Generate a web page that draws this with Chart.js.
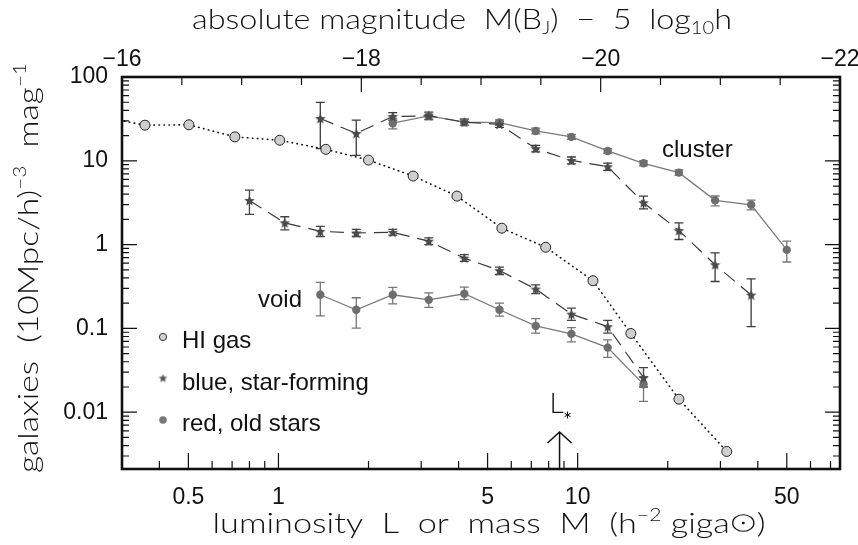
<!DOCTYPE html>
<html>
<head>
<meta charset="utf-8">
<script src="https://cdn.jsdelivr.net/npm/chart.js@4/dist/chart.umd.min.js"></script>
<style>
  body { margin: 0; background: #fff; }
  canvas { display: block; }
</style>
</head>
<body>
<canvas id="grafica" width="858" height="545"></canvas>
<script>
// gas HI (circulos grises, linea punteada)
const lumHI = [0.253, 0.358, 0.502, 0.715, 1.01, 1.44, 2.0, 2.82, 3.95, 5.58, 7.82, 11.25, 15.06, 21.8, 31.5];
const densHI = [34, 26.6, 26.9, 19.3, 17.6, 13.7, 10.2, 6.58, 3.79, 1.57, 0.93, 0.371, 0.087, 0.0143, 0.0034];

// vacio, galaxias azules
const lumVacioAzul = [0.80, 1.05, 1.38, 1.82, 2.41, 3.18, 4.18, 5.48, 7.24, 9.53, 12.6, 16.6];
const vacioAzul = [3.37, 1.82, 1.44, 1.38, 1.40, 1.10, 0.69, 0.49, 0.295, 0.148, 0.105, 0.0258];
const vacioAzulMin = [2.29, 1.50, 1.25, 1.25, 1.30, 1.00, 0.63, 0.44, 0.26, 0.125, 0.088, 0.020];
const vacioAzulMax = [4.47, 2.15, 1.65, 1.52, 1.52, 1.20, 0.76, 0.54, 0.33, 0.175, 0.125, 0.034];

// vacio, galaxias rojas
const lumVacioRojo = [1.38, 1.82, 2.41, 3.18, 4.18, 5.48, 7.24, 9.53, 12.6, 16.6];
const vacioRojo = [0.252, 0.167, 0.252, 0.219, 0.259, 0.167, 0.107, 0.086, 0.059, 0.0215];
const vacioRojoMin = [0.141, 0.101, 0.196, 0.178, 0.22, 0.14, 0.088, 0.069, 0.045, 0.0135];
const vacioRojoMax = [0.354, 0.232, 0.308, 0.265, 0.31, 0.20, 0.131, 0.102, 0.073, 0.0265];

// cumulo, galaxias azules
const lumCumuloAzul = [1.38, 1.82, 2.41, 3.18, 4.18, 5.48, 7.24, 9.53, 12.6, 16.6, 21.8, 28.8, 38.0];
const cumuloAzul = [32.0, 21.2, 33.8, 34.4, 28.9, 27.2, 14.0, 10.1, 8.5, 3.16, 1.47, 0.575, 0.25];
const cumuloAzulMin = [14.0, 11.6, 30.5, 31.0, 26.5, 25.0, 12.8, 9.2, 7.7, 2.67, 1.15, 0.363, 0.105];
const cumuloAzulMax = [49.8, 30.6, 37.5, 38.0, 31.5, 29.5, 15.3, 11.1, 9.4, 3.79, 1.82, 0.796, 0.39];

// cumulo, galaxias rojas
const lumCumuloRojo = [2.41, 3.18, 4.18, 5.48, 7.24, 9.53, 12.6, 16.6, 21.8, 28.8, 38.0, 50.0];
const cumuloRojo = [28.1, 34.4, 28.9, 28.6, 22.7, 19.3, 13.1, 9.33, 7.22, 3.37, 2.99, 0.865];
const cumuloRojoMin = [24.0, 31.5, 26.5, 26.5, 21.0, 18.0, 12.3, 8.7, 6.7, 2.9, 2.6, 0.62];
const cumuloRojoMax = [32.0, 37.5, 31.5, 30.8, 24.5, 20.7, 14.0, 10.0, 7.8, 3.8, 3.4, 1.10];

const marcasX = [0.5, 1, 5, 10, 50];
const marcasY = [0.01, 0.1, 1, 10, 100];
const marcasMag = [-22, -20, -18, -16];
const LESTRELLA = 8.7;

const fuenteTitulo = '"Lato", "DejaVu Sans"';
const fuenteTexto = '"Liberation Sans", Arial, sans-serif';

const crearEstrella = (radio, color) => {
    const c = document.createElement('canvas');
    const t = Math.ceil(radio * 2) + 2;
    c.width = t; c.height = t;
    const g = c.getContext('2d');
    g.translate(t / 2, t / 2 + 0.5);
    g.beginPath();
    for (let i = 0; i < 10; i++) {
        const r = i % 2 === 0 ? radio : radio * 0.45;
        const a = -Math.PI / 2 + i * Math.PI / 5;
        g.lineTo(r * Math.cos(a), r * Math.sin(a));
    }
    g.closePath();
    g.fillStyle = color;
    g.fill();
    return c;
};

const estrella = crearEstrella(5.5, '#4a4a4a');
const puntos = (xs, ys) => xs.map((x, i) => ({ x: x, y: ys[i] }));

// texto con super/subindices, ajustado a un ancho dado
// tipo: 0 normal, 1 superindice, -1 subindice, 2 simbolo solar
const textoRico = (ctx, partes, cx, cy, tam, ancho, girar) => {
    ctx.save();
    ctx.translate(cx, cy);
    if (girar) ctx.rotate(-Math.PI / 2);
    let total = 0;
    const medidas = partes.map(([t, tipo]) => {
        const s = (tipo === 1 || tipo === -1) ? tam * 0.62 : tam;
        ctx.font = `300 ${s}px ${fuenteTitulo}`;
        const w = tipo === 2 ? tam * 0.78 : ctx.measureText(t).width;
        total += w;
        return { t, tipo, s, w };
    });
    const sx = ancho ? ancho / total : 1;
    ctx.scale(sx, 1);
    ctx.fillStyle = '#111';
    ctx.strokeStyle = '#111';
    ctx.textBaseline = 'alphabetic';
    let x = -total / 2;
    const base = tam * 0.36;
    medidas.forEach(m => {
        if (m.tipo === 2) {
            const r = tam * 0.31;
            const cxs = x + m.w / 2, cys = base - tam * 0.36;
            ctx.lineWidth = 1;
            ctx.beginPath(); ctx.arc(cxs, cys, r, 0, Math.PI * 2); ctx.stroke();
            ctx.beginPath(); ctx.arc(cxs, cys, 1.2, 0, Math.PI * 2); ctx.fill();
        } else {
            ctx.font = `300 ${m.s}px ${fuenteTitulo}`;
            const dy = m.tipo === 1 ? -tam * 0.42 : (m.tipo === -1 ? tam * 0.2 : 0);
            ctx.fillText(m.t, x, base + dy);
        }
        x += m.w;
    });
    ctx.restore();
};

const barrasError = {
    id: 'barrasError',
    beforeDatasetsDraw(chart) {
        const { ctx, chartArea: a, scales } = chart;
        ctx.save();
        ctx.beginPath();
        ctx.rect(a.left, a.top, a.width, a.height);
        ctx.clip();
        chart.data.datasets.forEach(ds => {
            if (!ds.errMin) return;
            ctx.strokeStyle = ds.colorError;
            ctx.lineWidth = 1.3;
            ds.data.forEach((p, i) => {
                const px = scales.x.getPixelForValue(p.x);
                const y1 = scales.y.getPixelForValue(ds.errMin[i]);
                const y2 = scales.y.getPixelForValue(ds.errMax[i]);
                ctx.beginPath();
                ctx.moveTo(px, y1); ctx.lineTo(px, y2);
                ctx.moveTo(px - 4.5, y1); ctx.lineTo(px + 4.5, y1);
                ctx.moveTo(px - 4.5, y2); ctx.lineTo(px + 4.5, y2);
                ctx.stroke();
            });
        });
        ctx.restore();
    }
};

const marcoYTextos = {
    id: 'marcoYTextos',
    afterDraw(chart) {
        const { ctx, chartArea: a, scales } = chart;
        ctx.save();
        ctx.strokeStyle = '#111';
        ctx.lineWidth = 1.2;
        ctx.beginPath();
        // marcas inferiores (log)
        for (let d = -1; d <= 1; d++) {
            for (let m = 1; m <= 9; m++) {
                const v = m * Math.pow(10, d);
                if (v <= scales.x.min || v >= scales.x.max) continue;
                const px = scales.x.getPixelForValue(v);
                const largo = (m === 1 || m === 5) ? 16 : 8;
                ctx.moveTo(px, a.bottom); ctx.lineTo(px, a.bottom - largo);
            }
        }
        // marcas superiores (magnitud)
        for (let M = -16.5; M > -22; M -= 0.5) {
            const px = scales.xTop.getPixelForValue(M);
            const largo = (M % 2 === 0) ? 15 : 8;
            ctx.moveTo(px, a.top); ctx.lineTo(px, a.top + largo);
        }
        // marcas verticales a ambos lados
        for (let d = -3; d <= 1; d++) {
            for (let m = 1; m <= 9; m++) {
                const v = m * Math.pow(10, d);
                if (v <= scales.y.min || v >= scales.y.max) continue;
                const py = scales.y.getPixelForValue(v);
                const largo = m === 1 ? 15 : 7;
                ctx.moveTo(a.left, py); ctx.lineTo(a.left + largo, py);
                ctx.moveTo(a.right, py); ctx.lineTo(a.right - largo, py);
            }
        }
        ctx.stroke();

        ctx.lineWidth = 2.6;
        ctx.strokeRect(a.left, a.top, a.width, a.height);

        // titulos de ejes
        textoRico(ctx, [['absolute magnitude  M(B', 0], ['J', -1], [')  \u2212  5  log', 0], ['10', -1], ['h', 0]], 462, 19, 27, 540, false);
        textoRico(ctx, [['luminosity  L  or  mass  M  (h', 0], ['\u22122', 1], [' giga', 0], ['\u2299', 2], [')', 0]], 489, 523, 27, 553, false);
        textoRico(ctx, [['galaxies  (10Mpc/h)', 0], ['\u22123', 1], ['  mag', 0], ['\u22121', 1]], 28, 268, 27, 410, true);

        // etiquetas
        ctx.fillStyle = '#111';
        ctx.font = `24px ${fuenteTexto}`;
        ctx.textBaseline = 'middle';
        ctx.textAlign = 'left';
        ctx.fillText('cluster', 662, 150);
        ctx.fillText('void', 258, 300);
        ctx.fillText('HI gas', 182, 341);
        ctx.fillText('blue, star-forming', 182, 383);
        ctx.fillText('red, old stars', 182, 424);

        // simbolos de la leyenda
        ctx.lineWidth = 1;
        ctx.fillStyle = '#d2d2d2';
        ctx.strokeStyle = '#333';
        ctx.beginPath(); ctx.arc(163, 337, 3.6, 0, Math.PI * 2); ctx.fill(); ctx.stroke();
        ctx.drawImage(crearEstrella(4.5, '#555'), 163 - 5.5, 378 - 5.5);
        ctx.fillStyle = '#777';
        ctx.beginPath(); ctx.arc(163, 420, 3.8, 0, Math.PI * 2); ctx.fill();

        // L* con flecha
        const px = scales.x.getPixelForValue(LESTRELLA);
        ctx.strokeStyle = '#111';
        ctx.lineWidth = 1.5;
        ctx.beginPath();
        ctx.moveTo(px, a.bottom); ctx.lineTo(px, 432);
        ctx.moveTo(px - 12, 443); ctx.lineTo(px, 432); ctx.lineTo(px + 12, 443);
        ctx.stroke();
        ctx.fillStyle = '#111';
        ctx.font = `300 28px ${fuenteTitulo}`;
        ctx.textBaseline = 'alphabetic';
        ctx.fillText('L', px - 10, 413);
        ctx.lineWidth = 1;
        ctx.beginPath();
        for (let k = 0; k < 3; k++) {
            const ang = Math.PI / 2 + k * Math.PI / 3;
            ctx.moveTo(px + 8 + 3.5 * Math.cos(ang), 415 + 3.5 * Math.sin(ang));
            ctx.lineTo(px + 8 - 3.5 * Math.cos(ang), 415 - 3.5 * Math.sin(ang));
        }
        ctx.stroke();
        ctx.restore();
    }
};

const sinPadding = s => { s.paddingLeft = 0; s.paddingRight = 0; };

new Chart(document.getElementById('grafica'), {
    type: 'scatter',
    data: {
        datasets: [{
            label: 'HI gas',
            data: puntos(lumHI, densHI),
            showLine: true,
            borderColor: '#111',
            borderWidth: 1.6,
            borderDash: [0.5, 4.5],
            borderCapStyle: 'round',
            pointStyle: 'circle',
            pointRadius: 5,
            pointBackgroundColor: '#cfcfcf',
            pointBorderColor: '#222',
            pointBorderWidth: 1
        }, {
            label: 'void blue',
            data: puntos(lumVacioAzul, vacioAzul),
            errMin: vacioAzulMin, errMax: vacioAzulMax, colorError: '#444',
            showLine: true,
            borderColor: '#3a3a3a',
            borderWidth: 1.2,
            borderDash: [14, 8],
            pointStyle: estrella,
            pointRadius: 5
        }, {
            label: 'void red',
            data: puntos(lumVacioRojo, vacioRojo),
            errMin: vacioRojoMin, errMax: vacioRojoMax, colorError: '#777',
            showLine: true,
            borderColor: '#7a7a7a',
            borderWidth: 1.3,
            pointStyle: 'circle',
            pointRadius: 4.2,
            pointBackgroundColor: '#6e6e6e',
            pointBorderColor: '#6e6e6e',
            pointBorderWidth: 0
        }, {
            label: 'cluster blue',
            data: puntos(lumCumuloAzul, cumuloAzul),
            errMin: cumuloAzulMin, errMax: cumuloAzulMax, colorError: '#3a3a3a',
            showLine: true,
            borderColor: '#3a3a3a',
            borderWidth: 1.2,
            borderDash: [14, 8],
            pointStyle: estrella,
            pointRadius: 5
        }, {
            label: 'cluster red',
            data: puntos(lumCumuloRojo, cumuloRojo),
            errMin: cumuloRojoMin, errMax: cumuloRojoMax, colorError: '#777',
            showLine: true,
            borderColor: '#7a7a7a',
            borderWidth: 1.3,
            pointStyle: 'circle',
            pointRadius: 4.2,
            pointBackgroundColor: '#6e6e6e',
            pointBorderColor: '#6e6e6e',
            pointBorderWidth: 0
        }]
    },
    options: {
        responsive: false,
        animation: false,
        layout: { padding: { left: 0, right: 18, top: 0, bottom: 0 } },
        plugins: {
            legend: { display: false },
            tooltip: { enabled: false }
        },
        scales: {
            x: {
                type: 'logarithmic',
                position: 'bottom',
                min: 0.304,
                max: 75.3,
                grid: { display: false, drawTicks: false },
                border: { display: false },
                afterBuildTicks: s => { s.ticks = marcasX.map(v => ({ value: v })); },
                ticks: {
                    font: { family: 'Liberation Sans', size: 23 },
                    color: '#111',
                    padding: 15,
                    maxRotation: 0,
                    autoSkip: false,
                    callback: v => String(v)
                },
                afterFit: s => { sinPadding(s); s.height = 76; }
            },
            xTop: {
                type: 'linear',
                position: 'top',
                min: -22,
                max: -16,
                reverse: true,
                grid: { display: false, drawTicks: false },
                border: { display: false },
                afterBuildTicks: s => { s.ticks = marcasMag.map(v => ({ value: v })); },
                ticks: {
                    font: { family: 'Liberation Sans', size: 23 },
                    color: '#111',
                    padding: 4,
                    maxRotation: 0,
                    autoSkip: false,
                    callback: v => '\u2212' + Math.abs(v)
                },
                afterFit: s => { sinPadding(s); s.height = 77; }
            },
            y: {
                type: 'logarithmic',
                min: 0.0021,
                max: 100,
                grid: { display: false, drawTicks: false },
                border: { display: false },
                afterBuildTicks: s => { s.ticks = marcasY.map(v => ({ value: v })); },
                ticks: {
                    font: { family: 'Liberation Sans', size: 23 },
                    color: '#111',
                    padding: 14,
                    autoSkip: false,
                    callback: v => String(v)
                },
                afterFit: s => { s.width = 122; }
            }
        }
    },
    plugins: [barrasError, marcoYTextos]
});
</script>
</body>
</html>
